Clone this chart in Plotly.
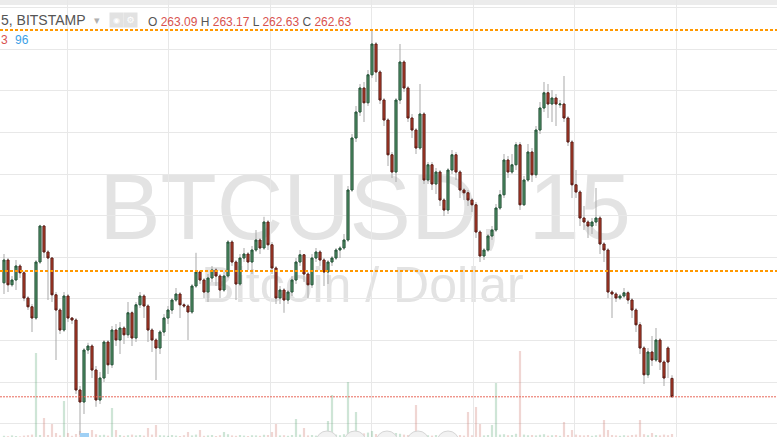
import plotly.graph_objects as go
import numpy as np

# ---- data (BTCUSD 15-min, Bitstamp) ----
opens = [
    265.48, 266.05, 265.43, 265.55, 265.90, 265.73, 265.10, 264.88, 264.60, 266.00,
    266.90, 266.25, 266.10, 265.18, 264.80, 264.30, 265.15, 264.60, 264.55, 262.80,
    262.50, 263.80, 263.90, 263.30, 262.55, 263.10, 264.00, 263.43, 264.30, 264.05,
    264.35, 264.18, 264.73, 264.10, 264.93, 265.15, 264.90, 264.30, 264.05, 263.85,
    264.25, 264.60, 264.80, 265.05, 265.20, 264.93, 264.90, 264.75, 265.40, 265.75,
    265.55, 265.25, 265.60, 265.80, 265.65, 265.30, 265.65, 266.50, 266.00, 265.45,
    266.10, 266.20, 266.00, 266.30, 266.55, 266.35, 267.00, 266.43, 265.85, 265.10,
    265.30, 265.05, 265.25, 265.55, 266.00, 266.18, 265.70, 265.43, 266.10, 266.25,
    266.05, 265.75, 266.00, 266.10, 266.30, 266.35, 266.55, 267.80, 269.10, 269.75,
    270.35, 269.98, 270.68, 271.45, 270.75, 270.05, 269.55, 268.68, 268.25, 270.05,
    271.00, 270.35, 269.60, 269.30, 268.85, 269.70, 268.05, 268.43, 267.95, 268.25,
    267.55, 267.30, 268.30, 268.68, 268.25, 267.80, 267.73, 267.55, 267.43, 266.75,
    266.15, 266.30, 266.65, 266.80, 267.35, 267.68, 268.55, 268.25, 268.43, 268.93,
    267.43, 268.05, 268.75, 268.18, 269.30, 269.85, 270.23, 269.95, 270.10, 269.93,
    269.95, 269.60, 269.00, 267.93, 267.75, 267.10, 267.00, 266.90, 267.00, 267.10,
    266.45, 266.30, 265.25, 265.20, 265.10, 265.15, 265.23, 265.05, 264.80, 264.43,
    263.85, 263.18, 263.75, 263.55, 264.05, 263.50, 263.85, 263.09,
]
highs = [
    266.20, 266.10, 265.65, 266.05, 265.95, 265.78, 265.15, 264.95, 266.05, 266.93,
    266.92, 266.30, 266.12, 265.25, 264.85, 265.25, 265.20, 264.62, 264.60, 262.90,
    263.85, 263.98, 263.95, 263.40, 263.25, 264.05, 264.05, 264.40, 264.45, 264.50,
    264.40, 265.00, 264.78, 265.00, 265.25, 265.20, 264.95, 264.35, 264.10, 264.30,
    264.70, 264.90, 265.10, 265.35, 265.25, 264.98, 264.95, 265.45, 266.23, 265.80,
    265.60, 265.70, 265.90, 265.85, 265.70, 265.75, 266.55, 266.55, 266.05, 266.20,
    266.35, 266.25, 266.40, 266.80, 266.60, 267.13, 267.05, 266.50, 265.90, 265.40,
    265.35, 265.30, 265.65, 266.10, 266.30, 266.20, 265.75, 266.20, 266.35, 266.30,
    266.10, 266.05, 266.15, 266.35, 266.40, 266.70, 267.90, 269.20, 269.90, 270.45,
    270.50, 270.80, 271.80, 271.50, 270.80, 270.10, 269.60, 268.75, 270.10, 271.45,
    271.05, 270.40, 269.70, 269.35, 270.45, 269.75, 268.50, 268.50, 268.35, 268.30,
    267.60, 268.35, 268.80, 268.75, 268.30, 267.85, 267.80, 267.60, 267.50, 266.80,
    266.35, 266.70, 266.90, 267.45, 267.80, 268.70, 268.65, 268.70, 269.00, 269.00,
    268.15, 268.95, 268.85, 269.40, 270.00, 270.50, 270.45, 270.30, 270.20, 270.05,
    270.65, 269.65, 269.05, 268.30, 267.80, 267.40, 267.05, 267.10, 267.85, 267.15,
    266.50, 266.35, 265.30, 265.25, 265.20, 265.35, 265.28, 265.10, 264.85, 264.50,
    263.90, 263.85, 264.15, 264.35, 264.10, 263.55, 263.90, 263.17,
]
lows = [
    265.20, 265.25, 265.38, 265.30, 265.60, 265.02, 264.80, 264.25, 264.55, 265.95,
    266.10, 265.05, 265.00, 263.55, 264.20, 264.25, 264.50, 264.45, 262.70, 261.68,
    262.20, 263.70, 263.10, 262.38, 262.45, 263.00, 263.20, 263.35, 263.90, 263.70,
    263.95, 264.10, 263.90, 264.00, 264.85, 264.60, 264.00, 263.75, 263.05, 263.70,
    264.15, 264.45, 264.70, 265.00, 264.60, 264.85, 264.05, 264.70, 265.35, 265.45,
    265.10, 265.00, 265.50, 265.40, 265.10, 265.25, 265.60, 265.90, 265.05, 265.40,
    266.00, 265.80, 265.70, 266.25, 266.20, 266.30, 266.30, 265.70, 264.95, 264.95,
    264.73, 264.95, 265.15, 265.45, 265.90, 265.50, 265.10, 265.35, 266.00, 265.90,
    265.40, 265.45, 265.90, 266.05, 266.10, 266.30, 266.50, 267.75, 269.00, 269.65,
    269.50, 269.90, 270.60, 270.50, 269.95, 269.40, 268.40, 268.10, 268.00, 269.95,
    270.25, 269.50, 269.10, 268.70, 268.80, 267.95, 267.95, 267.80, 267.70, 267.40,
    267.15, 267.20, 268.20, 268.05, 267.60, 267.55, 267.40, 267.25, 266.60, 266.00,
    266.05, 266.25, 266.55, 266.75, 267.30, 267.60, 268.10, 268.20, 268.30, 267.30,
    267.40, 268.00, 268.00, 268.10, 269.20, 269.75, 269.60, 269.50, 269.40, 269.85,
    269.50, 268.90, 267.60, 267.60, 266.90, 266.80, 266.60, 266.70, 266.90, 266.20,
    266.00, 265.10, 264.60, 265.00, 265.05, 265.10, 264.95, 264.60, 264.25, 263.70,
    262.95, 263.10, 263.40, 263.50, 263.30, 262.90, 263.10, 262.63,
]
closes = [
    266.05, 265.43, 265.55, 265.90, 265.73, 265.10, 264.88, 264.60, 266.00, 266.90,
    266.25, 266.10, 265.18, 264.80, 264.30, 265.15, 264.60, 264.55, 262.80, 262.50,
    263.80, 263.90, 263.30, 262.55, 263.10, 264.00, 263.43, 264.30, 264.05, 264.35,
    264.18, 264.73, 264.10, 264.93, 265.15, 264.90, 264.30, 264.05, 263.85, 264.25,
    264.60, 264.80, 265.05, 265.20, 264.93, 264.90, 264.75, 265.40, 265.75, 265.55,
    265.25, 265.60, 265.80, 265.65, 265.30, 265.65, 266.50, 266.00, 265.45, 266.10,
    266.20, 266.00, 266.30, 266.55, 266.35, 267.00, 266.43, 265.85, 265.10, 265.30,
    265.05, 265.25, 265.55, 266.00, 266.18, 265.70, 265.43, 266.10, 266.25, 266.05,
    265.75, 266.00, 266.10, 266.30, 266.35, 266.55, 267.80, 269.10, 269.75, 270.35,
    269.98, 270.68, 271.45, 270.75, 270.05, 269.55, 268.68, 268.25, 270.05, 271.00,
    270.35, 269.60, 269.30, 268.85, 269.70, 268.05, 268.43, 267.95, 268.25, 267.55,
    267.30, 268.30, 268.68, 268.25, 267.80, 267.73, 267.55, 267.43, 266.75, 266.15,
    266.30, 266.65, 266.80, 267.35, 267.68, 268.55, 268.25, 268.43, 268.93, 267.43,
    268.05, 268.75, 268.18, 269.30, 269.85, 270.23, 269.95, 270.10, 269.95, 269.95,
    269.60, 269.00, 267.93, 267.75, 267.10, 267.00, 266.90, 267.00, 267.10, 266.45,
    266.30, 265.25, 265.20, 265.10, 265.15, 265.23, 265.05, 264.80, 264.43, 263.85,
    263.18, 263.75, 263.55, 264.05, 263.50, 263.10, 263.50, 262.63,
]
volumes = [
    6, 4, 8, 5, 3, 7, 9, 12, 420, 10,
    95, 10, 65, 20, 8, 180, 20, 6, 15, 30,
    12, 8, 35, 14, 9, 11, 7, 145, 35, 10,
    6, 9, 12, 8, 10, 7, 45, 12, 60, 9,
    8, 6, 10, 7, 5, 9, 25, 8, 12, 35,
    6, 8, 10, 5, 9, 25, 14, 8, 6, 10,
    7, 5, 9, 8, 6, 11, 10, 25, 65, 8,
    9, 6, 10, 90, 12, 45, 8, 10, 7, 9,
    6, 80, 210, 12, 9, 14, 275, 30, 125, 20,
    18, 22, 30, 15, 12, 10, 14, 9, 20, 16,
    12, 10, 8, 160, 14, 12, 9, 7, 10, 8,
    6, 12, 9, 8, 10, 7, 125, 9, 150, 65,
    8, 10, 60, 270, 12, 14, 9, 10, 16, 430,
    12, 9, 10, 8, 11, 14, 7, 9, 10, 6,
    75, 10, 35, 12, 9, 8, 10, 6, 9, 12,
    85, 35, 10, 8, 6, 9, 7, 10, 12, 85,
    14, 9, 20, 10, 8, 12, 9, 15,
]
level_high = 271.80      # orange horizontal level (top)
level_mid = 265.775      # orange horizontal level (middle)
symbol_label = "5, BITSTAMP"
watermark = "BTCUSD, 15"
watermark_sub = "Bitcoin / Dollar"
ind_a, ind_b = "3", "96"

W, H = 777, 437
idx = list(range(len(closes)))
o = np.array(opens)
c = np.array(closes)
up = c >= o
body_hi = np.maximum(o, c)
body_lo = np.minimum(o, c)

def px(x):
    return x / W

def py(y):
    return 1 - y / H

fig = go.Figure()

# volume (behind everything, own axis)
vol_colors = np.where(up, "rgba(107,175,131,0.33)", "rgba(205,120,110,0.30)")
fig.add_trace(go.Bar(x=idx, y=volumes, marker=dict(color=vol_colors, line=dict(width=0)),
                     width=0.55, yaxis="y", hoverinfo="skip"))

# wicks (grey)
fig.add_trace(go.Candlestick(
    x=idx, open=opens, high=highs, low=lows, close=closes, yaxis="y2",
    increasing=dict(line=dict(color="#a9a9a9", width=1), fillcolor="#a9a9a9"),
    decreasing=dict(line=dict(color="#a9a9a9", width=1), fillcolor="#a9a9a9"),
    hoverinfo="skip"))

# bodies
fig.add_trace(go.Candlestick(
    x=idx, open=opens, high=body_hi, low=body_lo, close=closes, yaxis="y2",
    increasing=dict(line=dict(color="#225437", width=1), fillcolor="#5c9e72"),
    decreasing=dict(line=dict(color="#5b1a13", width=1), fillcolor="#c9472f"),
    hoverinfo="skip"))

shapes = []
# top toolbar strip
shapes.append(dict(type="rect", xref="paper", yref="paper", x0=0, x1=1, y0=py(5), y1=1,
                   fillcolor="#ececec", line=dict(width=0), layer="below"))
# watermarks
shapes.append(dict(type="rect", xref="paper", yref="paper", x0=px(50), x1=px(680),
                   y0=py(255), y1=py(140), line=dict(width=0), fillcolor="rgba(0,0,0,0)",
                   layer="below",
                   label=dict(text=watermark, textposition="middle center",
                              font=dict(size=92, color="#e3e3e3", family="Liberation Sans"))))
shapes.append(dict(type="rect", xref="paper", yref="paper", x0=px(150), x1=px(575),
                   y0=py(305), y1=py(255), line=dict(width=0), fillcolor="rgba(0,0,0,0)",
                   layer="below",
                   label=dict(text=watermark_sub, textposition="middle center",
                              font=dict(size=50, color="#e3e3e3", family="Liberation Sans"))))
# price levels
for lv in (level_high, level_mid):
    shapes.append(dict(type="line", xref="paper", yref="y2", x0=0, x1=1, y0=lv, y1=lv,
                       line=dict(color="#ff9800", width=2, dash="3px,2px")))
shapes.append(dict(type="line", xref="paper", yref="y2", x0=0, x1=1, y0=closes[-1], y1=closes[-1],
                   line=dict(color="#e8695a", width=1, dash="2px,1px")))
# event circles at bottom
for cx in (327, 355, 387, 418, 448):
    shapes.append(dict(type="circle", xref="paper", yref="paper",
                       x0=px(cx - 11), x1=px(cx + 11), y0=py(453), y1=py(431),
                       fillcolor="#f2f2f2", line=dict(color="#d6d6d6", width=1)))
shapes.append(dict(type="rect", xref="paper", yref="paper", x0=px(80), x1=px(89),
                   y0=0, y1=py(433), fillcolor="#9fd0f5", line=dict(width=0)))

red = "#d9534f"
grey = "#555555"
ohlc_text = (f"<span style='color:{grey}'>O</span> <span style='color:{red}'>{opens[-1]:.2f}</span> "
             f"<span style='color:{grey}'>H</span> <span style='color:{red}'>{highs[-1]:.2f}</span> "
             f"<span style='color:{grey}'>L</span> <span style='color:{red}'>{lows[-1]:.2f}</span> "
             f"<span style='color:{grey}'>C</span> <span style='color:{red}'>{closes[-1]:.2f}</span>")

annotations = [
    dict(text=symbol_label, x=px(-1), y=py(20), xref="paper", yref="paper", xanchor="left",
         yanchor="middle", showarrow=False, font=dict(size=14, color="#555555", family="Liberation Sans")),
    dict(text="▾", x=px(92), y=py(21), xref="paper", yref="paper", xanchor="left",
         yanchor="middle", showarrow=False, font=dict(size=11, color="#b0b0b0", family="DejaVu Sans")),
    dict(text="◉", x=px(116), y=py(20), xref="paper", yref="paper", xanchor="center",
         yanchor="middle", showarrow=False, bgcolor="#e2e2e2", width=11, height=12,
         font=dict(size=8, color="#ffffff", family="DejaVu Sans")),
    dict(text="⚙", x=px(130), y=py(20), xref="paper", yref="paper", xanchor="center",
         yanchor="middle", showarrow=False, bgcolor="#e2e2e2", width=11, height=12,
         font=dict(size=9, color="#ffffff", family="DejaVu Sans")),
    dict(text=ohlc_text, x=px(146), y=py(22), xref="paper", yref="paper", xanchor="left",
         yanchor="middle", showarrow=False, font=dict(size=12, family="Liberation Sans")),
    dict(text=ind_a, x=px(-1), y=py(40), xref="paper", yref="paper", xanchor="left",
         yanchor="middle", showarrow=False, font=dict(size=12, color=red, family="Liberation Sans")),
    dict(text=ind_b, x=px(13), y=py(40), xref="paper", yref="paper", xanchor="left",
         yanchor="middle", showarrow=False, font=dict(size=12, color="#3ba0e6", family="Liberation Sans")),
]

fig.update_layout(
    width=W, height=H, margin=dict(l=0, r=0, t=0, b=0),
    paper_bgcolor="white", plot_bgcolor="white",
    showlegend=False, hovermode=False,
    shapes=shapes, annotations=annotations,
    xaxis=dict(range=[-1, -1 + W / 4], showgrid=True, gridcolor="#e8e8e8", gridwidth=1,
               tick0=15.75, dtick=25.375, showticklabels=False, ticks="", zeroline=False,
               showline=False, rangeslider=dict(visible=False), fixedrange=True),
    yaxis=dict(range=[0, 2185], showgrid=False, showticklabels=False, ticks="",
               zeroline=False, showline=False, fixedrange=True),
    yaxis2=dict(overlaying="y", side="right", range=[261.625, 272.55], showgrid=True,
                gridcolor="#e8e8e8", gridwidth=1, tick0=263, dtick=1.04,
                showticklabels=False, ticks="", zeroline=False, showline=False, fixedrange=True),
)

fig.write_html("out.html", config={"displayModeBar": False},
               post_script="document.body.style.margin='0';document.body.style.overflow='hidden';")
